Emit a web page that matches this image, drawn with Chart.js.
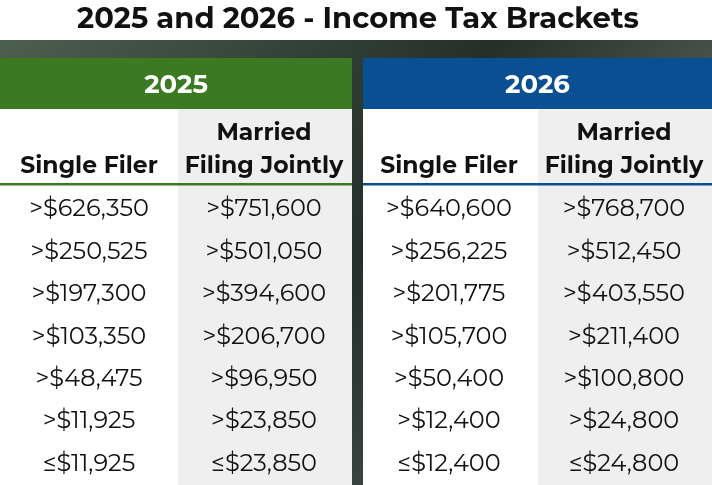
<!DOCTYPE html>
<html><head><meta charset="utf-8">
<script src="https://cdn.jsdelivr.net/npm/chart.js@4"></script>
<style>html,body{margin:0;padding:0;background:#fff}#c{display:block}</style>
</head><body>
<div style="width:712px;height:485px"><canvas id="c"></canvas></div>
<script>
// Table content
const title = "2025 and 2026 - Income Tax Brackets";
const years = ["2025", "2026"];
const yearColors = ["#3b7a22", "#0b4f93"];
const columns = ["Single Filer", "Married\nFiling Jointly", "Single Filer", "Married\nFiling Jointly"];
const rows = ["r1", "r2", "r3", "r4", "r5", "r6", "r7"];
const single2025 = [">$626,350", ">$250,525", ">$197,300", ">$103,350", ">$48,475", ">$11,925", "≤$11,925"];
const joint2025 = [">$751,600", ">$501,050", ">$394,600", ">$206,700", ">$96,950", ">$23,850", "≤$23,850"];
const single2026 = [">$640,600", ">$256,225", ">$201,775", ">$105,700", ">$50,400", ">$12,400", "≤$12,400"];
const joint2026 = [">$768,700", ">$512,450", ">$403,550", ">$211,400", ">$100,800", ">$24,800", "≤$24,800"];
const cellData = [single2025, joint2025, single2026, joint2026];

const FONT = "Montserrat, 'Open Sans', sans-serif";

const tablePlugin = {
  id: "table",
  beforeDraw(chart) {
    const ctx = chart.ctx;
    const xs = chart.scales.x, ys = chart.scales.y;
    const W = chart.width, H = chart.height;
    const colW = xs.width / columns.length;
    // blurred photo background
    const g = ctx.createLinearGradient(0, 40, W, H);
    g.addColorStop(0, "#4d5f4f");
    g.addColorStop(0.5, "#23302a");
    g.addColorStop(1, "#6b7a70");
    ctx.fillStyle = g;
    ctx.fillRect(0, 40, W, H - 40);
    ctx.fillStyle = "#ffffff";
    ctx.fillRect(0, 0, W, 40);
    ctx.fillStyle = "#111";
    ctx.font = "bold 29px " + FONT;
    ctx.textAlign = "center";
    ctx.textBaseline = "middle";
    ctx.fillText(title, W / 2 + 2, 19);

    years.forEach((yr, p) => {
      const left = xs.getPixelForValue(p * 2) - colW / 2 + (p ? 7 : 0);
      const right = xs.getPixelForValue(p * 2 + 1) + colW / 2 - (p ? 0 : 4);
      ctx.fillStyle = yearColors[p];
      ctx.fillRect(left, 58, right - left, 51);
      ctx.fillStyle = "#fff";
      ctx.font = "bold 26px " + FONT;
      ctx.fillText(yr, (left + right) / 2, 85);
      ctx.fillRect(left, 109, right - left, H - 109);
      const mid = xs.getPixelForValue(p * 2 + 1) - colW / 2 + (p ? 4 : 0);
      ctx.fillStyle = "#efefef";
      ctx.fillRect(mid, 109, right - mid, H - 109);
      ctx.fillStyle = yearColors[p];
      ctx.fillRect(left, 183, right - left, 2.5);
    });

    columns.forEach((c, i) => {
      const cx = xs.getPixelForValue(i) + (i >= 2 ? 4 : 0) + (i % 2 ? -3 : 0);
      const lines = c.split("\n");
      ctx.fillStyle = "#111";
      ctx.font = "bold 23.5px " + FONT;
      lines.forEach((l, k) => ctx.fillText(l, cx, 166 - (lines.length - 1 - k) * 33));
      ctx.font = "24px " + FONT;
      cellData[i].forEach((v, r) => ctx.fillText(v, cx, ys.getPixelForValue(r)));
    });
  }
};

new Chart(document.getElementById("c"), {
  type: "bar",
  data: { labels: columns, datasets: [{ data: [], yAxisID: "y" }] },
  options: {
    responsive: true, maintainAspectRatio: false, animation: false,
    layout: { padding: { top: 188, bottom: 0, left: 0, right: 0 } },
    plugins: { legend: { display: false }, tooltip: { enabled: false } },
    scales: {
      x: { type: "category", labels: columns, display: false, offset: true },
      y: { type: "category", labels: rows, display: false, offset: true }
    }
  },
  plugins: [tablePlugin]
});
</script>
</body></html>
